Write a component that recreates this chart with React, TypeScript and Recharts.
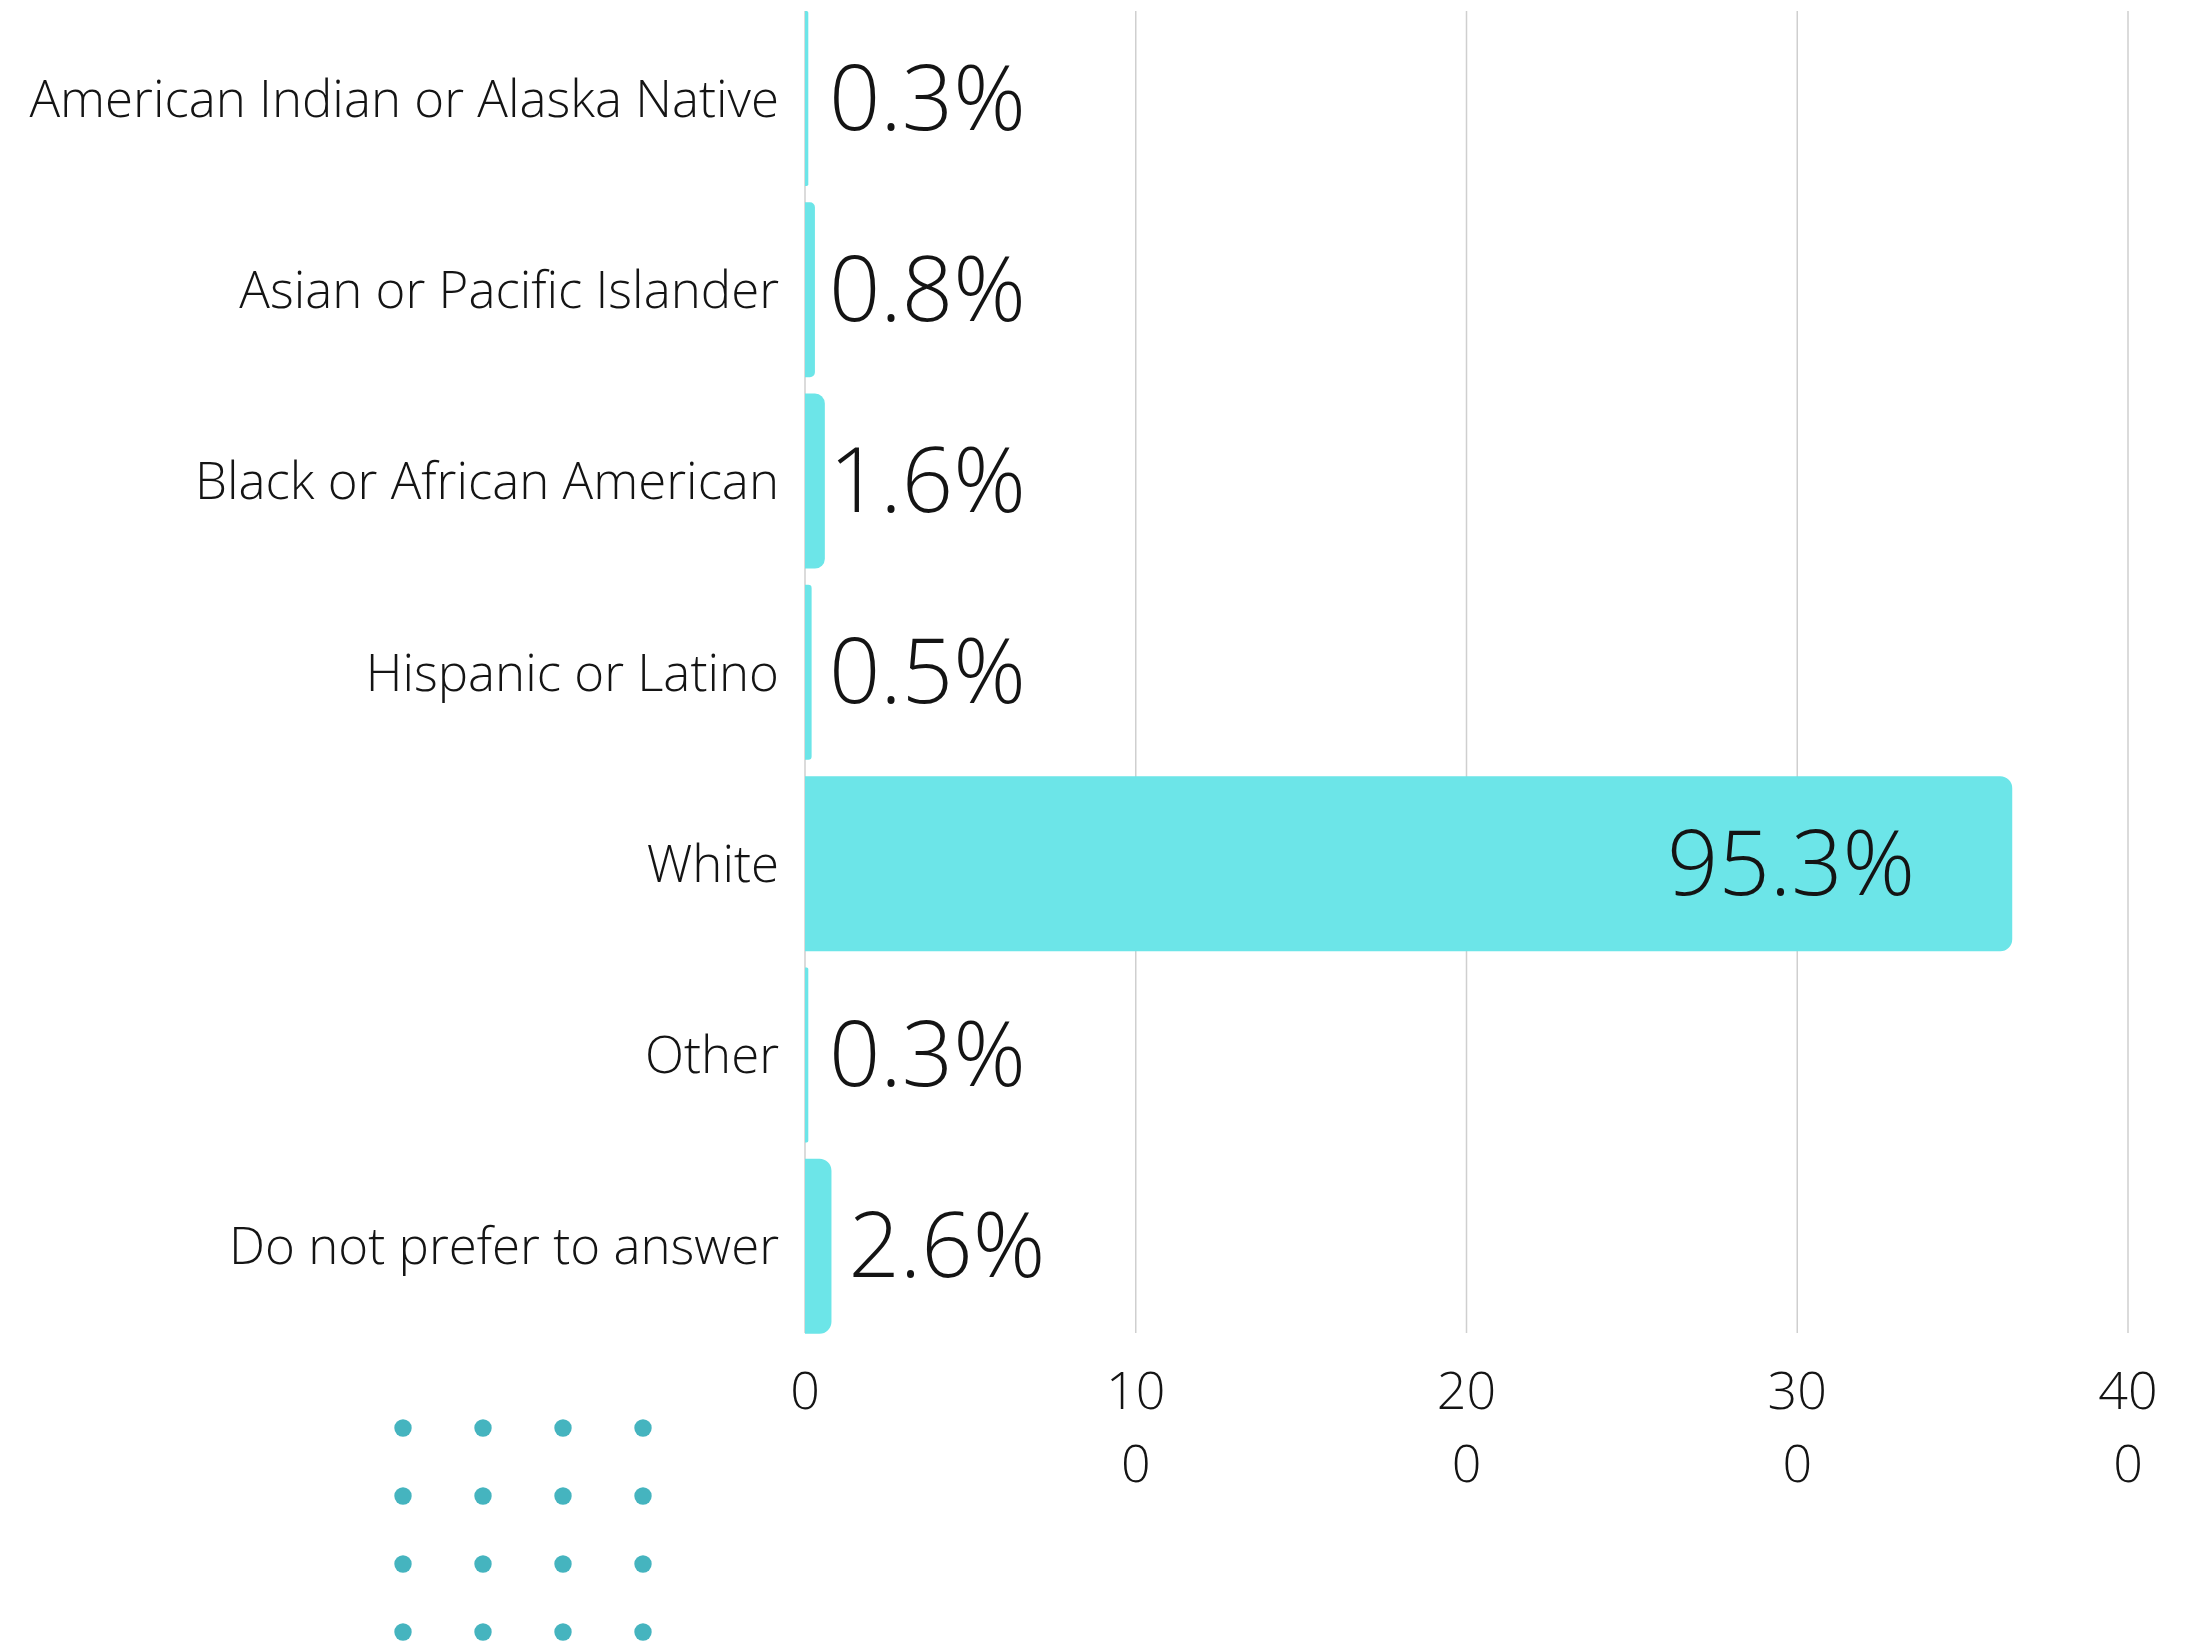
import React from 'react';
import { BarChart, Bar, XAxis, YAxis, CartesianGrid, LabelList } from 'recharts';

// survey data: respondents by race / ethnicity
const categories = [
  'American Indian or Alaska Native',
  'Asian or Pacific Islander',
  'Black or African American',
  'Hispanic or Latino',
  'White',
  'Other',
  'Do not prefer to answer',
];
const counts = [1, 3, 6, 2, 365, 1, 8];
const percentLabels = ['0.3%', '0.8%', '1.6%', '0.5%', '95.3%', '0.3%', '2.6%'];
const xTicks = [0, 100, 200, 300, 400];

const data = categories.map((name, i) => ({
  name,
  count: counts[i],
  label: percentLabels[i],
}));

const FONT = "'Open Sans', 'Noto Sans', sans-serif";
const TEXT = '#141414';
const BAR = '#6ce5e8';
const DOT = '#45b4bf';

const CategoryTick = (props: any) => {
  const { x, y, payload } = props;
  return (
    <text
      x={x}
      y={y}
      dy={18}
      textAnchor="end"
      fontFamily={FONT}
      fontWeight={300}
      fontSize={51}
      fill={TEXT}
    >
      {payload.value}
    </text>
  );
};

// tick labels wrap after two characters ("10" / "0")
const ValueTick = (props: any) => {
  const { x, y, payload } = props;
  const s = String(payload.value);
  const lines: string[] = [];
  for (let i = 0; i < s.length; i += 2) lines.push(s.slice(i, i + 2));
  return (
    <text
      x={x}
      y={y}
      textAnchor="middle"
      fontFamily={FONT}
      fontWeight={300}
      fontSize={52}
      fill={TEXT}
    >
      {lines.map((line, i) => (
        <tspan key={i} x={x} dy={i === 0 ? 61 : 72.5}>
          {line}
        </tspan>
      ))}
    </text>
  );
};

const renderValueLabel = (props: any) => {
  const { x, y, width, height, value } = props;
  const inside = width > 300;
  // thin bars share one label column, wider ones push the label out
  const tx = inside ? x + width - 97 : width < 22 ? x + 24 : x + width + 17;
  return (
    <text
      x={tx}
      y={y + height / 2}
      dy={31}
      textAnchor={inside ? 'end' : 'start'}
      fontFamily={FONT}
      fontWeight={300}
      fontSize={90}
      fill={TEXT}
    >
      {value}
    </text>
  );
};

const gridLine = (props: any) => {
  const { x1, y1, x2, y2, index } = props;
  return (
    <line
      key={`v-${index}-${x1}`}
      x1={x1}
      x2={x2}
      y1={y1 + 8}
      y2={y2 - 9}
      stroke="#cfcfcf"
      strokeWidth={1.5}
    />
  );
};

const DotGrid = () => {
  const dots = [];
  for (let r = 0; r < 4; r++) {
    for (let c = 0; c < 4; c++) {
      dots.push(
        <circle key={`${r}-${c}`} cx={403 + c * 80} cy={1428 + r * 68} r={8.7} fill={DOT} />
      );
    }
  }
  return (
    <svg
      width={2202}
      height={1642}
      style={{ position: 'absolute', left: 0, top: 0, pointerEvents: 'none' }}
    >
      {dots}
    </svg>
  );
};

export default function App() {
  return (
    <div
      style={{
        position: 'absolute',
        left: 0,
        top: 0,
        width: 2202,
        height: 1642,
        background: '#ffffff',
      }}
    >
      <BarChart
        width={2202}
        height={1642}
        data={data}
        layout="vertical"
        margin={{ top: 3, right: 74, bottom: 0, left: 0 }}
      >
        <CartesianGrid horizontal={false} vertical={gridLine} />
        <XAxis
          type="number"
          domain={[0, 400]}
          ticks={xTicks}
          height={300}
          axisLine={false}
          tickLine={false}
          tickMargin={0}
          tick={<ValueTick />}
          interval={0}
        />
        <YAxis
          type="category"
          dataKey="name"
          width={805}
          axisLine={false}
          tickLine={false}
          tickMargin={20}
          tick={<CategoryTick />}
          interval={0}
        />
        <Bar
          dataKey="count"
          fill={BAR}
          barSize={175}
          radius={[0, 12, 12, 0]}
          isAnimationActive={false}
        >
          <LabelList dataKey="label" content={renderValueLabel} />
        </Bar>
      </BarChart>
      <DotGrid />
    </div>
  );
}
